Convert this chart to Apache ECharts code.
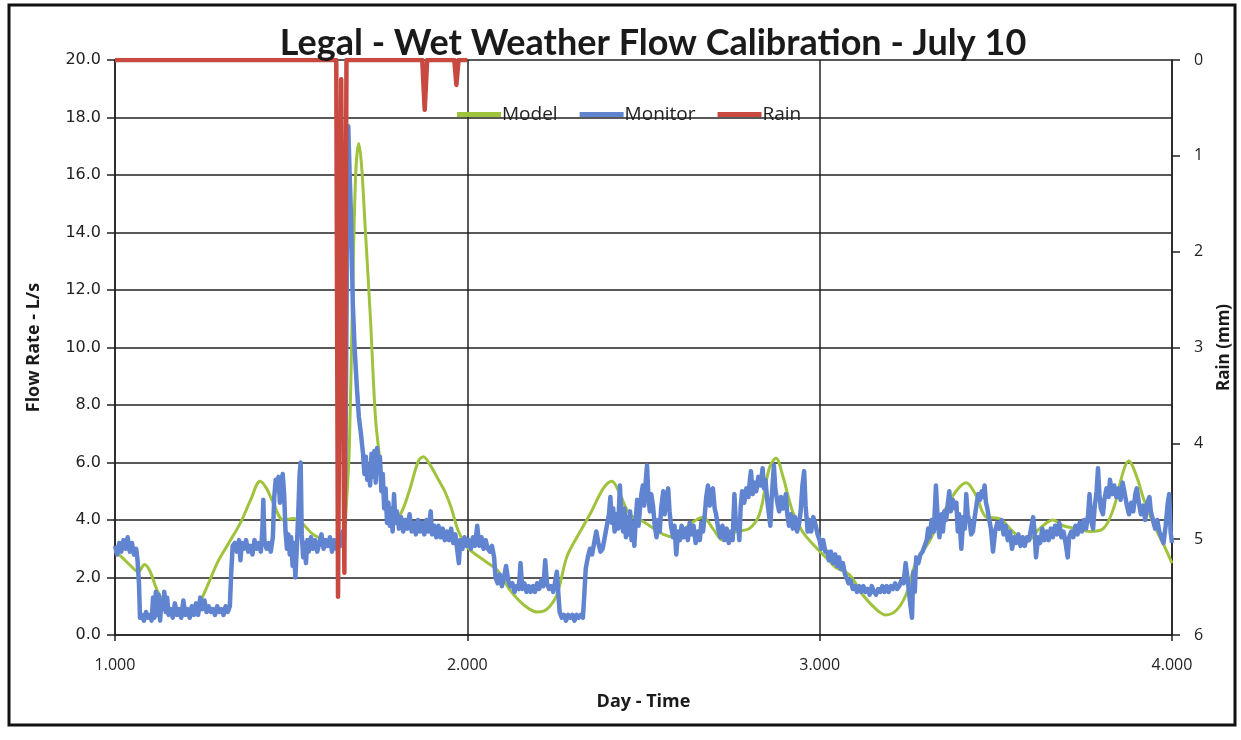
<!DOCTYPE html>
<html>
<head>
<meta charset="utf-8">
<script src="https://cdn.jsdelivr.net/npm/echarts@6/dist/echarts.min.js"></script>
<style>
html,body{margin:0;padding:0;background:#fff;}
#chart{width:1241px;height:740px;}
</style>
</head>
<body>
<div id="chart"></div>
<script>
const titleText = 'Legal - Wet Weather Flow Calibration - July 10';
const seriesNames = ['Model', 'Monitor', 'Rain'];
const xTicks = [1, 2, 3, 4];

// Modelled flow (L/s) : [day, value]
const modelData = [
[1.000,2.9],[1.020,2.7],[1.045,2.4],[1.066,2.2],[1.084,2.45],[1.100,2.2],[1.118,1.6],[1.135,1.2],[1.159,0.8],[1.190,0.75],
[1.215,0.85],[1.234,1.0],[1.262,1.7],[1.290,2.5],[1.318,3.1],[1.356,3.9],[1.385,4.7],[1.412,5.35],[1.430,5.1],[1.449,4.6],
[1.478,4.0],[1.506,4.05],[1.530,3.9],[1.562,3.5],[1.599,3.3],[1.637,3.2],[1.650,3.6],[1.657,4.6],[1.665,6.5],[1.673,11.0],
[1.683,16.0],[1.692,17.1],[1.700,16.3],[1.710,14.2],[1.725,11.0],[1.739,7.6],[1.749,6.4],[1.762,5.2],[1.777,4.4],[1.792,4.1],
[1.810,4.2],[1.835,5.0],[1.861,6.05],[1.875,6.2],[1.895,5.9],[1.918,5.4],[1.936,5.0],[1.955,4.4],[1.972,3.7],[2.000,3.05],
[2.047,2.6],[2.085,2.25],[2.122,1.55],[2.160,1.05],[2.198,0.8],[2.226,0.9],[2.254,1.4],[2.282,2.7],[2.311,3.4],[2.348,4.2],
[2.386,5.1],[2.410,5.35],[2.433,4.9],[2.461,4.2],[2.499,3.95],[2.556,3.5],[2.593,3.4],[2.631,3.85],[2.669,4.1],[2.697,3.7],
[2.725,3.3],[2.763,3.6],[2.800,3.7],[2.829,4.2],[2.857,5.8],[2.876,6.15],[2.895,5.55],[2.923,4.3],[2.951,3.6],[2.989,3.05],
[3.026,2.6],[3.046,2.35],[3.084,2.1],[3.122,1.4],[3.160,0.9],[3.188,0.7],[3.217,0.85],[3.245,1.4],[3.274,2.55],[3.311,3.25],
[3.349,4.2],[3.387,5.0],[3.416,5.3],[3.444,4.85],[3.473,4.1],[3.510,4.05],[3.548,3.6],[3.586,3.25],[3.624,3.7],[3.662,4.0],
[3.691,3.8],[3.729,3.7],[3.767,3.6],[3.805,3.7],[3.834,4.4],[3.862,5.7],[3.877,6.05],[3.900,5.5],[3.919,4.75],[3.948,3.85],
[3.976,3.15],[4.000,2.5]
];

// Monitored flow (L/s) : [day, value]
const monitorData = [
[1.000,3.1],[1.006,2.8],[1.012,3.2],[1.018,2.9],[1.024,3.3],[1.030,3.0],[1.036,3.4],[1.042,2.9],[1.048,3.2],[1.054,2.8],
[1.060,3.0],[1.064,2.6],[1.068,1.8],[1.071,0.6],[1.076,0.7],[1.082,0.5],[1.088,0.8],[1.094,0.6],[1.100,0.7],[1.104,0.5],
[1.108,1.3],[1.112,0.6],[1.116,1.5],[1.120,0.7],[1.124,1.4],[1.128,0.5],[1.132,1.2],[1.136,0.9],[1.140,1.5],[1.144,0.8],
[1.148,1.3],[1.152,0.7],[1.158,0.9],[1.164,0.6],[1.170,1.1],[1.176,0.7],[1.182,0.9],[1.188,0.6],[1.194,1.2],[1.200,0.7],
[1.206,0.9],[1.212,0.6],[1.218,1.0],[1.224,0.7],[1.230,1.1],[1.236,0.7],[1.242,1.3],[1.248,0.9],[1.254,1.2],[1.260,0.8],
[1.266,1.0],[1.272,0.8],[1.278,0.9],[1.284,0.7],[1.290,1.0],[1.296,0.8],[1.302,0.9],[1.308,0.7],[1.314,1.0],[1.320,0.8],
[1.326,1.0],[1.330,2.2],[1.334,3.1],[1.340,3.2],[1.346,2.9],[1.352,3.3],[1.356,2.6],[1.360,3.2],[1.366,3.0],[1.372,3.3],
[1.378,2.9],[1.384,3.1],[1.390,2.8],[1.396,3.3],[1.402,3.0],[1.408,3.2],[1.414,2.9],[1.418,3.6],[1.421,4.7],[1.424,3.3],
[1.430,3.0],[1.436,3.2],[1.442,2.9],[1.448,3.4],[1.452,4.8],[1.456,5.4],[1.460,5.2],[1.464,5.5],[1.468,4.6],[1.472,5.3],
[1.476,5.6],[1.480,4.9],[1.484,3.6],[1.488,3.0],[1.492,3.5],[1.496,2.8],[1.500,3.4],[1.504,2.4],[1.508,3.2],[1.512,2.0],
[1.516,3.0],[1.520,4.2],[1.524,5.6],[1.527,6.0],[1.530,3.5],[1.534,2.7],[1.538,3.2],[1.542,2.5],[1.546,3.3],[1.550,2.9],
[1.556,3.4],[1.562,3.0],[1.568,3.3],[1.574,2.9],[1.580,3.2],[1.586,3.5],[1.592,3.0],[1.598,3.3],[1.604,3.1],[1.610,3.4],
[1.616,2.9],[1.622,3.3],[1.628,3.0],[1.634,3.4],[1.640,3.1],[1.646,3.6],[1.650,3.3],[1.654,6.0],[1.658,12.5],[1.662,17.7],
[1.666,16.0],[1.670,14.5],[1.675,11.5],[1.680,10.0],[1.686,8.7],[1.692,7.6],[1.698,7.0],[1.704,6.3],[1.708,5.6],[1.712,6.2],
[1.716,5.4],[1.720,5.9],[1.724,5.2],[1.728,6.3],[1.732,5.5],[1.736,6.4],[1.740,5.3],[1.744,6.5],[1.748,5.8],[1.752,6.2],
[1.756,5.0],[1.760,5.6],[1.764,4.4],[1.768,5.1],[1.772,3.9],[1.776,4.6],[1.780,3.8],[1.784,4.4],[1.788,3.6],[1.792,4.9],
[1.796,3.9],[1.800,4.3],[1.806,3.7],[1.812,4.1],[1.818,3.6],[1.824,4.0],[1.830,3.7],[1.836,4.2],[1.842,3.6],[1.848,3.9],
[1.854,3.5],[1.860,4.0],[1.866,3.6],[1.872,3.9],[1.878,3.5],[1.884,4.0],[1.890,3.6],[1.896,4.3],[1.900,3.5],[1.906,3.8],
[1.912,3.4],[1.918,3.8],[1.924,3.4],[1.930,3.7],[1.936,3.3],[1.942,3.6],[1.948,3.3],[1.954,3.7],[1.960,3.2],[1.966,3.5],
[1.972,2.9],[1.976,2.5],[1.980,3.3],[1.986,3.0],[1.992,3.4],[1.998,3.1],[2.004,3.3],[2.010,3.0],[2.016,3.4],[2.022,3.1],
[2.028,3.8],[2.034,3.1],[2.040,3.4],[2.046,3.0],[2.052,3.3],[2.058,3.0],[2.064,2.9],[2.070,3.1],[2.076,2.7],[2.080,2.0],
[2.086,1.8],[2.092,2.1],[2.098,1.7],[2.104,2.0],[2.110,2.4],[2.116,1.9],[2.122,1.7],[2.128,1.8],[2.134,1.5],[2.140,1.7],
[2.146,1.6],[2.151,2.5],[2.156,1.6],[2.162,1.8],[2.168,1.5],[2.174,1.7],[2.180,1.5],[2.186,1.7],[2.192,1.5],[2.198,1.8],
[2.204,1.6],[2.210,1.9],[2.216,1.7],[2.221,2.6],[2.226,1.8],[2.232,1.6],[2.238,1.7],[2.244,1.5],[2.250,1.9],[2.254,2.2],
[2.258,1.5],[2.262,0.8],[2.268,0.6],[2.274,0.7],[2.280,0.5],[2.286,0.7],[2.292,0.6],[2.298,0.7],[2.304,0.5],[2.310,0.7],
[2.316,0.6],[2.322,0.7],[2.328,0.6],[2.332,1.4],[2.336,2.3],[2.342,2.7],[2.348,3.0],[2.354,2.8],[2.360,3.2],[2.366,3.6],
[2.372,3.2],[2.378,2.9],[2.384,3.0],[2.390,3.4],[2.396,3.8],[2.402,4.2],[2.406,4.8],[2.410,3.9],[2.414,4.4],[2.418,3.6],
[2.424,4.2],[2.428,3.7],[2.433,5.2],[2.438,4.0],[2.442,3.6],[2.446,4.4],[2.450,3.4],[2.454,4.1],[2.458,3.5],[2.462,4.3],
[2.466,3.3],[2.470,3.9],[2.474,3.1],[2.478,4.0],[2.482,4.7],[2.486,3.8],[2.490,4.4],[2.494,4.9],[2.498,5.2],[2.502,4.5],
[2.506,5.3],[2.510,5.9],[2.514,4.8],[2.518,4.3],[2.522,4.9],[2.527,4.5],[2.532,3.8],[2.537,3.4],[2.542,4.0],[2.546,3.6],
[2.550,4.4],[2.556,5.0],[2.560,4.2],[2.566,4.8],[2.570,5.1],[2.574,4.3],[2.578,3.8],[2.584,3.4],[2.588,3.8],[2.593,2.8],
[2.598,3.6],[2.603,3.3],[2.608,3.8],[2.614,3.4],[2.620,3.7],[2.626,3.3],[2.631,3.9],[2.636,3.5],[2.642,3.8],[2.648,3.2],
[2.654,3.6],[2.660,3.3],[2.664,3.9],[2.669,3.6],[2.674,4.2],[2.678,4.8],[2.683,5.2],[2.688,4.5],[2.692,5.0],[2.697,5.1],
[2.702,4.4],[2.706,4.2],[2.712,3.7],[2.718,3.4],[2.724,3.8],[2.730,3.3],[2.736,3.7],[2.742,3.2],[2.748,3.6],[2.753,3.3],
[2.758,4.9],[2.763,3.7],[2.768,3.9],[2.772,3.3],[2.776,4.5],[2.780,5.0],[2.786,4.6],[2.792,5.1],[2.798,4.8],[2.802,5.4],
[2.805,5.7],[2.810,4.9],[2.815,5.3],[2.820,5.0],[2.826,5.5],[2.832,5.2],[2.838,5.8],[2.842,5.1],[2.846,5.4],[2.852,4.6],
[2.856,4.2],[2.860,3.8],[2.864,4.8],[2.870,5.9],[2.874,5.1],[2.880,4.6],[2.885,4.3],[2.890,4.8],[2.896,4.4],[2.904,4.9],
[2.908,4.2],[2.913,3.8],[2.918,4.2],[2.924,3.7],[2.930,4.1],[2.936,3.6],[2.942,3.9],[2.946,4.3],[2.951,5.2],[2.956,5.7],
[2.960,4.5],[2.966,3.6],[2.970,4.0],[2.976,3.6],[2.982,4.1],[2.989,3.8],[2.994,3.5],[3.000,3.3],[3.004,3.0],[3.010,3.3],
[3.016,2.9],[3.022,2.9],[3.026,2.6],[3.032,2.9],[3.038,2.5],[3.044,2.8],[3.050,2.4],[3.055,2.7],[3.060,2.3],[3.066,2.5],
[3.072,2.1],[3.076,2.0],[3.082,1.8],[3.088,1.9],[3.094,1.6],[3.100,1.7],[3.106,1.5],[3.112,1.7],[3.118,1.5],[3.124,1.7],
[3.130,1.5],[3.136,1.6],[3.142,1.4],[3.148,1.7],[3.154,1.5],[3.160,1.4],[3.166,1.6],[3.172,1.5],[3.178,1.7],[3.184,1.5],
[3.190,1.7],[3.196,1.5],[3.202,1.7],[3.208,1.6],[3.214,1.8],[3.220,1.6],[3.226,1.7],[3.232,1.9],[3.238,1.8],[3.244,2.5],
[3.250,1.9],[3.256,1.2],[3.262,0.6],[3.266,2.2],[3.270,1.5],[3.274,2.7],[3.280,2.5],[3.286,2.8],[3.292,2.9],[3.298,3.1],
[3.304,3.3],[3.308,3.7],[3.312,3.4],[3.318,4.0],[3.324,3.6],[3.330,5.2],[3.336,3.8],[3.340,3.4],[3.346,4.2],[3.350,3.6],
[3.354,4.3],[3.359,4.0],[3.364,4.6],[3.368,5.0],[3.372,4.3],[3.378,4.7],[3.384,4.4],[3.388,4.6],[3.392,3.6],[3.396,4.2],
[3.402,3.0],[3.408,4.1],[3.412,3.7],[3.416,4.9],[3.420,4.2],[3.426,3.9],[3.430,3.5],[3.435,3.6],[3.440,4.1],[3.446,4.6],
[3.450,4.9],[3.455,4.7],[3.460,5.0],[3.464,4.8],[3.468,5.2],[3.472,4.6],[3.476,4.4],[3.480,4.1],[3.486,3.7],[3.492,2.9],
[3.498,3.6],[3.504,3.9],[3.510,3.7],[3.516,4.0],[3.522,3.5],[3.528,3.8],[3.534,3.3],[3.540,3.6],[3.546,3.0],[3.552,3.4],
[3.558,3.2],[3.564,3.5],[3.570,3.1],[3.576,3.4],[3.582,3.1],[3.588,3.4],[3.594,3.3],[3.600,3.7],[3.606,4.1],[3.610,3.6],
[3.614,2.7],[3.620,3.4],[3.626,3.2],[3.632,3.7],[3.638,3.3],[3.644,3.6],[3.650,3.3],[3.656,3.7],[3.662,3.4],[3.668,3.8],
[3.674,3.5],[3.680,3.9],[3.686,3.4],[3.692,3.6],[3.698,3.2],[3.704,2.7],[3.708,3.4],[3.714,3.6],[3.720,3.4],[3.726,3.8],
[3.732,3.5],[3.738,3.9],[3.744,3.6],[3.750,4.0],[3.756,3.7],[3.762,4.2],[3.766,4.9],[3.770,4.0],[3.776,3.7],[3.780,4.4],
[3.786,5.0],[3.790,5.8],[3.794,4.9],[3.798,4.4],[3.804,4.2],[3.808,4.7],[3.814,5.1],[3.820,4.8],[3.824,5.4],[3.830,4.9],
[3.836,5.2],[3.842,4.8],[3.848,5.1],[3.854,4.7],[3.860,5.3],[3.866,4.9],[3.872,4.5],[3.878,4.2],[3.884,4.6],[3.890,4.3],
[3.896,4.9],[3.900,5.1],[3.906,4.6],[3.912,4.2],[3.918,4.5],[3.924,4.0],[3.930,4.6],[3.936,4.8],[3.940,4.3],[3.946,4.0],
[3.952,3.7],[3.958,4.0],[3.964,3.6],[3.970,3.4],[3.976,3.2],[3.982,3.8],[3.988,4.6],[3.992,4.9],[3.996,3.6],[4.000,3.2]
];

// Rainfall (mm) : [day, value]
const rainData = [
[1.000,0],[1.628,0],[1.633,5.6],[1.642,0.2],[1.651,5.35],[1.657,0],[1.872,0],[1.879,0.52],[1.886,0],
[1.963,0],[1.969,0.26],[1.975,0],[2.000,0]
];

const chart = echarts.init(document.getElementById('chart'), null, {renderer: 'canvas'});
const axisColor = '#222';
chart.setOption({
  animation: false,
  backgroundColor: '#fff',
  title: {
    text: titleText,
    left: 648,
    top: 20,
    textAlign: 'center',
    textStyle: {fontFamily: 'Lato', fontWeight: 'bold', fontSize: 36, color: '#1a1a1a'}
  },
  legend: {
    data: seriesNames,
    left: 452,
    top: 100,
    itemWidth: 44,
    itemHeight: 5,
    itemGap: 22,
    icon: 'rect',
    textStyle: {fontFamily: 'Open Sans', fontSize: 19, color: '#222', padding: [0, 0, 0, -4]}
  },
  grid: {left: 115, right: 66, top: 60, bottom: 105, containLabel: false},
  xAxis: {
    type: 'value', min: xTicks[0], max: xTicks[xTicks.length - 1], interval: 1,
    name: 'Day - Time', nameLocation: 'middle', nameGap: 58,
    nameTextStyle: {fontFamily: 'Open Sans', fontWeight: 'bold', fontSize: 18, color: '#1a1a1a'},
    axisLine: {show: true, onZero: false, lineStyle: {color: axisColor, width: 1.5}},
    axisTick: {show: true, length: 6, lineStyle: {color: axisColor, width: 1.5}},
    axisLabel: {fontFamily: 'Open Sans', fontSize: 16, color: '#222', margin: 22,
      formatter: v => v.toFixed(3)},
    splitLine: {show: true, lineStyle: {color: axisColor, width: 1.5}}
  },
  yAxis: [{
    type: 'value', min: 0, max: 20, interval: 2,
    name: 'Flow Rate - L/s', nameLocation: 'middle', nameGap: 72, nameRotate: 90,
    nameTextStyle: {fontFamily: 'Open Sans', fontWeight: 'bold', fontSize: 18, color: '#1a1a1a'},
    axisLine: {show: true, lineStyle: {color: axisColor, width: 1.5}},
    axisTick: {show: true, length: 8, lineStyle: {color: axisColor, width: 1.5}},
    axisLabel: {fontFamily: 'DejaVu Sans', fontSize: 16, color: '#222', margin: 14,
      formatter: v => v.toFixed(1)},
    splitLine: {show: true, lineStyle: {color: axisColor, width: 1.5}}
  }, {
    type: 'value', min: 0, max: 6, interval: 1, inverse: true, position: 'right',
    name: 'Rain (mm)', nameLocation: 'middle', nameGap: 44, nameRotate: 90,
    nameTextStyle: {fontFamily: 'Open Sans', fontWeight: 'bold', fontSize: 17, color: '#1a1a1a'},
    axisLine: {show: true, lineStyle: {color: axisColor, width: 1.5}},
    axisTick: {show: true, length: 8, lineStyle: {color: axisColor, width: 1.5}},
    axisLabel: {fontFamily: 'Open Sans', fontSize: 16, color: '#222', margin: 22},
    splitLine: {show: false}
  }],
  graphic: [{
    type: 'rect', z: 100, silent: true,
    shape: {x: 9, y: 5, width: 1226, height: 720},
    style: {fill: 'none', stroke: '#111', lineWidth: 3}
  }],
  series: [{
    name: 'Model', type: 'line', yAxisIndex: 0, data: modelData,
    smooth: 0.35, showSymbol: false, symbol: 'none',
    lineStyle: {color: '#9fc33c', width: 3}, itemStyle: {color: '#9fc33c'}, z: 2
  }, {
    name: 'Monitor', type: 'line', yAxisIndex: 0, data: monitorData,
    showSymbol: false, symbol: 'none',
    lineStyle: {color: '#6184d0', width: 4.5, join: 'round'}, itemStyle: {color: '#6184d0'}, z: 3
  }, {
    name: 'Rain', type: 'line', yAxisIndex: 1, data: rainData,
    showSymbol: false, symbol: 'none',
    lineStyle: {color: '#c8493f', width: 4.5, join: 'round'}, itemStyle: {color: '#c8493f'}, z: 4
  }]
});
</script>
</body>
</html>
